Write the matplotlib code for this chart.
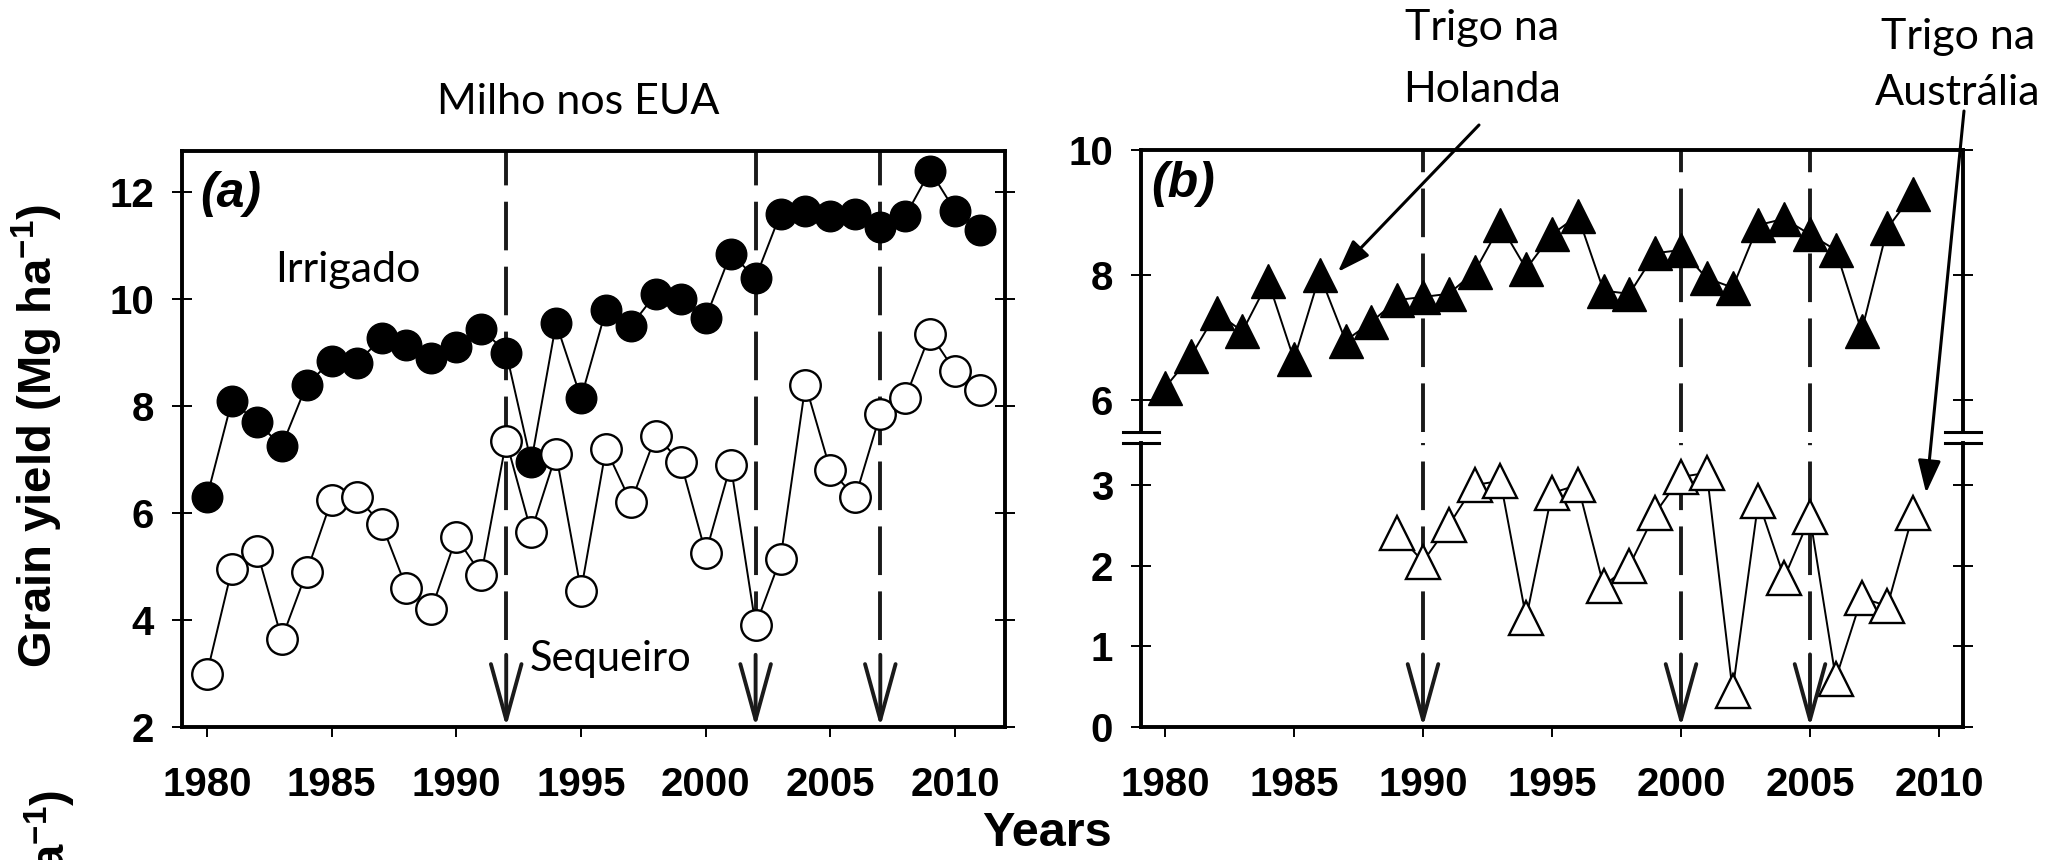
import matplotlib
matplotlib.use('Agg')
import matplotlib.pyplot as plt

# ---------------- data ----------------
years_a = list(range(1980, 2012))
irrigado = [6.3, 8.1, 7.7, 7.25, 8.4, 8.85, 8.8, 9.27, 9.15, 8.9,
            9.1, 9.45, 9.0, 6.95, 9.55, 8.15, 9.8, 9.5, 10.1, 10.0,
            9.65, 10.85, 10.4, 11.6, 11.65, 11.55, 11.6, 11.35, 11.55, 12.4,
            11.65, 11.3]
sequeiro = [3.0, 4.95, 5.3, 3.65, 4.9, 6.25, 6.3, 5.8, 4.6, 4.2,
            5.55, 4.85, 7.35, 5.65, 7.1, 4.55, 7.2, 6.2, 7.45, 6.95,
            5.25, 6.9, 3.9, 5.15, 8.4, 6.8, 6.3, 7.85, 8.15, 9.35,
            8.65, 8.3]
years_nl = list(range(1980, 2010))
holanda = [6.2, 6.7, 7.4, 7.1, 7.9, 6.65, 8.0, 6.95, 7.25, 7.6,
           7.65, 7.7, 8.05, 8.8, 8.1, 8.65, 8.95, 7.75, 7.7, 8.35,
           8.4, 7.95, 7.8, 8.8, 8.9, 8.65, 8.4, 7.1, 8.75, 9.3]
years_au = list(range(1989, 2010))
australia = [2.4, 2.05, 2.5, 3.0, 3.05, 1.35, 2.9, 3.0, 1.75, 2.0,
             2.65, 3.1, 3.15, 0.45, 2.8, 1.85, 2.6, 0.6, 1.6, 1.5, 2.65]
events_a = [1992, 2002, 2007]
events_b = [1990, 2000, 2005]
xticks = [1980, 1985, 1990, 1995, 2000, 2005, 2010]
yticks_a = [2, 4, 6, 8, 10, 12]
yticks_b_up = [6, 8, 10]
yticks_b_low = [0, 1, 2, 3]

# ---------------- style ----------------
plt.rcParams['mathtext.fontset'] = 'custom'
plt.rcParams['mathtext.rm'] = 'Liberation Sans:bold'
plt.rcParams['mathtext.it'] = 'Liberation Sans:bold:italic'
plt.rcParams['mathtext.bf'] = 'Liberation Sans:bold'

W, H = 2046, 860
fig = plt.figure(figsize=(W / 100, H / 100), dpi=100)
BOLD = dict(family='Liberation Sans', weight='bold')
ANN = dict(family='Lato')
TICK_FS = 29
SPINE_LW = 2.8
ANN_FS = 31


def box(l, r, t, b):
    return [l / W, 1 - b / H, (r - l) / W, (b - t) / H]


def style_axes(ax):
    for s in ax.spines.values():
        s.set_linewidth(SPINE_LW)
    ax.tick_params(axis='y', direction='inout', length=14, width=1.4,
                   right=True, labelright=False, pad=13)
    ax.tick_params(axis='x', direction='out', length=7, width=1.4, pad=21)
    for lab in ax.get_xticklabels() + ax.get_yticklabels():
        lab.set_fontproperties(dict(BOLD, size=TICK_FS))


line_kw = dict(color='black', lw=1.4)
dash_kw = dict(color='#1a1a1a', lw=2.8, ls=(0, (12.5, 4.2)), zorder=1)
arrow_kw = dict(arrowstyle='->,head_length=4.0,head_width=1.1', lw=2.8,
                color='#1a1a1a', shrinkA=0, shrinkB=0)
ptr_kw = dict(arrowstyle='-|>,head_length=1.0,head_width=0.35',
              lw=2.2, color='black', shrinkA=0, shrinkB=0, mutation_scale=20)

# ---------------- panel (a) ----------------
axa = fig.add_axes(box(182, 1005, 151, 727))
axa.plot(years_a, irrigado, marker='o', ms=22, mfc='black', mec='black',
         zorder=3, **line_kw)
axa.plot(years_a, sequeiro, marker='o', ms=22, mfc='white', mec='black',
         mew=1.7, zorder=3, **line_kw)
axa.set_xlim(1979.0, 2012.0)
axa.set_ylim(2, 12.77)
axa.set_xticks(xticks)
axa.set_yticks(yticks_a)
style_axes(axa)
for x in events_a:
    axa.plot([x, x], [3.62, 12.77], **dash_kw)
    axa.annotate('', xy=(x, 2.0), xytext=(x, 3.35), arrowprops=arrow_kw)
axa.text(0.022, 0.965, '(a)', transform=axa.transAxes, ha='left', va='top',
         family='Liberation Sans', weight='bold', style='italic', size=36)

# ---------------- panel (b) ----------------
axu = fig.add_axes(box(1141, 1963, 150, 432))
axl = fig.add_axes(box(1141, 1963, 443, 727))
axu.plot(years_nl, holanda, marker='^', ms=25, mfc='black', mec='black',
         zorder=3, **line_kw)
axl.plot(years_au, australia, marker='^', ms=25, mfc='white', mec='black',
         mew=1.7, zorder=3, **line_kw)
for ax in (axu, axl):
    ax.set_xlim(1979.07, 2010.93)
axu.set_ylim(5.49, 10)
axl.set_ylim(0, 3.52)
axu.set_yticks(yticks_b_up)
axl.set_yticks(yticks_b_low)
axu.set_xticks(xticks)
axl.set_xticks(xticks)
style_axes(axu)
style_axes(axl)
axu.spines['bottom'].set_visible(False)
axu.tick_params(axis='x', bottom=False, labelbottom=False)
axl.spines['top'].set_visible(False)
for x in events_b:
    axu.axvline(x, **dash_kw)
    axl.plot([x, x], [1.08, 3.52], **dash_kw)
    axl.annotate('', xy=(x, 0.0), xytext=(x, 0.9), arrowprops=arrow_kw)
# axis-break marks
for ax, yb in ((axu, 0.0), (axl, 1.0)):
    for xb in (0.0, 1.0):
        ax.plot([xb - 0.0225, xb + 0.0225], [yb, yb], transform=ax.transAxes,
                color='black', lw=2.2, clip_on=False)
axu.text(0.012, 0.96, '(b)', transform=axu.transAxes, ha='left', va='top',
         family='Liberation Sans', weight='bold', style='italic', size=36)

# ---------------- labels & annotations ----------------
YLAB = 'Grain yield (Mg ha$^{-1}$)'
fig.text(37 / W, 1 - 436 / H, YLAB, rotation=90, ha='center', va='center',
         fontproperties=dict(BOLD, size=34))
fig.text(50 / W, 1 - 790 / H, YLAB, rotation=90, ha='center', va='top',
         fontproperties=dict(BOLD, size=34))
fig.text(1047 / W, 1 - 833 / H, 'Years', ha='center', va='center',
         fontproperties=dict(BOLD, size=35))

fig.text(578 / W, 1 - 102 / H, 'Milho nos EUA', ha='center', va='center',
         size=ANN_FS, **ANN)
fig.text(348 / W, 1 - 270 / H, 'Irrigado', ha='center', va='center',
         size=ANN_FS, **ANN)
fig.text(611 / W, 1 - 659 / H, 'Sequeiro', ha='center', va='center',
         size=ANN_FS - 1, **ANN)
fig.text(1482 / W, 1 - 59 / H, 'Trigo na\nHolanda', ha='center', va='center',
         size=ANN_FS, linespacing=1.75, **ANN)
fig.text(1958 / W, 1 - 65 / H, 'Trigo na\nAustrália', ha='center', va='center',
         size=ANN_FS, linespacing=1.6, **ANN)

axu.annotate('', xy=(1986.7, 8.05), xycoords='data',
             xytext=(1479, H - 125), textcoords='figure pixels',
             arrowprops=ptr_kw, annotation_clip=False)
axl.annotate('', xy=(2009.5, 2.9), xycoords='data',
             xytext=(1964, H - 111), textcoords='figure pixels',
             arrowprops=ptr_kw, annotation_clip=False)

fig.savefig('out.png', dpi=100)
